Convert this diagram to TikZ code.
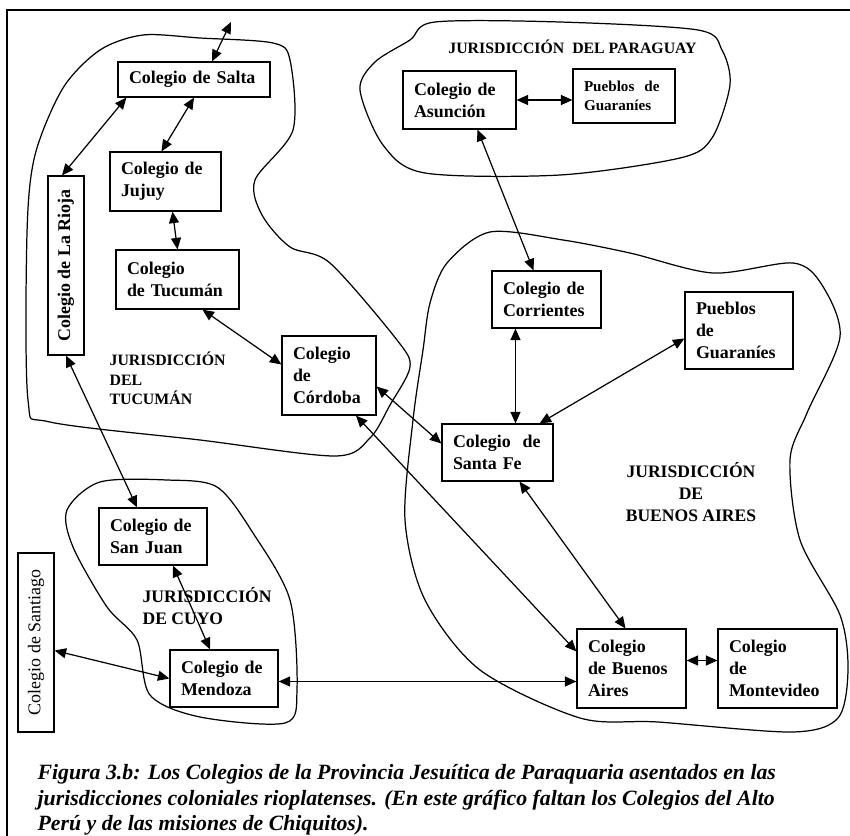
\documentclass[tikz,border=0pt]{standalone}
\usepackage{fontspec}
\setmainfont{Liberation Serif}
\usetikzlibrary{arrows.meta,calc}

\begin{document}
\begin{tikzpicture}[x=0.02cm,y=-0.02cm,line width=0.7pt,%
>={Triangle[length=2.3mm,width=2mm]},%
colegio/.style={draw, inner xsep=0.22cm, inner ysep=0pt, align=left,
font=\bfseries\fontsize{10.2}{12.5}\selectfont},
jur/.style={inner sep=0pt, font=\bfseries\fontsize{9}{11}\selectfont}]
\useasboundingbox (0,0) rectangle (850,836);
\draw (7,836) -- (7,10) -- (850,10);
% jurisdicciones
\draw plot[smooth cycle] coordinates {(143,35) (200,38) (273,43) (290,60)
(293,130) (255,180) (262,215) (290,247) (330,263) (397,340) (410,367)
(390,405) (370,438) (335,456) (200,440) (50,422) (28,400) (27,233)
(35,155) (63,88) (100,50)};
\draw plot[smooth cycle] coordinates {(435,22) (560,22) (698,30) (722,50)
(730,85) (712,138) (680,158) (560,175) (425,173) (383,145) (360,90)
(375,62) (410,40)};
\draw plot[smooth cycle] coordinates {(447,263) (490,232) (563,240)
(630,253) (713,273) (793,263) (822,285) (840,337) (807,413) (790,460)
(800,540) (840,615) (848,670) (838,718) (792,732) (658,722) (580,718)
(480,670) (425,600) (405,520) (413,420) (423,350) (430,303)};
\draw plot[smooth cycle] coordinates {(100,482) (167,480) (217,487)
(253,533) (290,600) (297,690) (285,723) (200,717) (150,695) (137,640)
(107,607) (73,547) (67,510)};
\node (salta) at (194,79.5) [colegio, text width=2.6cm, minimum height=0.7cm]
{Colegio de Salta};
\node (jujuy) at (165.5,181.5) [colegio, text width=1.78cm, minimum height=1.18cm]
{Colegio de\\Jujuy};
\node (tucuman) at (177.5,279.5) [colegio, text width=2.02cm, minimum height=1.18cm]
{Colegio\\de Tucumán};
\node (rioja) at (66,265.5) [colegio, rotate=90, inner xsep=0pt, align=center,
minimum width=3.58cm, minimum height=0.72cm] {Colegio de La Rioja};
\node (cordoba) at (329,375.5) [colegio, text width=1.44cm, minimum height=1.58cm]
{Colegio\\de\\Córdoba};
\node (santiago) at (36,642.5) [colegio, rotate=90, inner xsep=0pt, align=center,
minimum width=3.58cm, minimum height=0.72cm,
font=\fontsize{10.2}{12.5}\selectfont] {Colegio de Santiago};
\node (sanJuan) at (153,536.5) [colegio, text width=1.72cm, minimum height=1.14cm]
{Colegio de\\San Juan};
\node (mendoza) at (224,678.5) [colegio, text width=1.72cm, minimum height=1.14cm]
{Colegio de\\Mendoza};
\node (asuncion) at (459.5,100) [colegio, text width=1.82cm, minimum height=1.16cm]
{Colegio de\\Asunción};
\node (pueblosPy) at (624,96) [colegio, text width=1.6cm, minimum height=1.08cm,
font=\bfseries\fontsize{8.6}{10.8}\selectfont] {Pueblos\ \ de\\Guaraníes};
\node (corrientes) at (546.5,299.5) [colegio, text width=1.74cm, minimum height=1.14cm]
{Colegio de\\Corrientes};
\node (pueblosBa) at (739,330.5) [colegio, text width=1.72cm, minimum height=1.54cm]
{Pueblos\\de\\Guaraníes};
\node (santaFe) at (497.5,452.5) [colegio, text width=1.78cm, minimum height=1.14cm]
{Colegio\ \ de\\Santa Fe};
\node (bsAs) at (631.5,668.5) [colegio, text width=1.74cm, minimum height=1.58cm]
{Colegio\\de Buenos\\Aires};
\node (montevideo) at (777.5,668.5) [colegio, text width=1.94cm, minimum height=1.58cm]
{Colegio\\de\\Montevideo};
\node (jurTuc) at (109,378.5) [jur, anchor=west, align=left]
{JURISDICCIÓN\\DEL\\TUCUMÁN};
\node (jurPar) at (572.5,47) [jur] {JURISDICCIÓN\ \ DEL PARAGUAY};
\node (jurBa) at (691,492) [jur, align=center,
font=\bfseries\fontsize{10}{12.5}\selectfont]
{JURISDICCIÓN\\DE\hspace*{0.32cm}\\BUENOS AIRES};
\node (jurCuyo) at (142,606) [jur, anchor=west, align=left,
font=\bfseries\fontsize{10}{12.5}\selectfont] {JURISDICCIÓN\\DE CUYO};
\node (caption) at (37,800) [anchor=west, inner sep=0pt, align=left,
font=\bfseries\itshape\fontsize{12.4}{14.4}\selectfont]
{Figura 3.b: Los Colegios de la Provincia Jesuítica de Paraquaria asentados en las\\
jurisdicciones coloniales rioplatenses. (En este gráfico faltan los Colegios del Alto\\
Perú y de las misiones de Chiquitos).};
\coordinate (arriba) at (231,22);
\draw[<->] ($(salta.north)+(18,0)$) -- (arriba);
\draw[<->] ($(salta.south west)+(9,0)$) -- ($(rioja.east)+(-4,0)$);
\draw[<->] (salta.south) -- ($(jujuy.north)+(-4,0)$);
\draw[<->] ($(jujuy.south)+(7,0)$) -- (tucuman.north);
\draw[<->] ($(tucuman.south)+(25,0)$) -- ($(cordoba.west)+(0,-11)$);
\draw[<->] (rioja.west) -- ($(sanJuan.north)+(-16,0)$);
\draw[<->] ($(cordoba.east)+(0,11)$) -- ($(santaFe.west)+(0,-9)$);
\draw[<->] ($(cordoba.south)+(27,0)$) -- ($(bsAs.west)+(0,-17)$);
\draw[<->] ($(asuncion.south)+(18,0)$) -- ($(corrientes.north)+(-13,0)$);
\draw[<->] (asuncion.east) -- (asuncion.east -| pueblosPy.west);
\draw[<->] ($(corrientes.south)+(-31,0)$) -- ($(santaFe.north)+(18,0)$);
\draw[<->] ($(pueblosBa.west)+(0,8)$) -- ($(santaFe.north east)+(-14,0)$);
\draw[<->] ($(santaFe.south)+(22,0)$) -- ($(bsAs.north)+(-6,0)$);
\draw[<->] ($(bsAs.east)+(0,-8)$) -- ($(montevideo.west)+(0,-8)$);
\draw[<->] ($(mendoza.east)+(0,3)$) -- ($(bsAs.west)+(0,13)$);
\draw[<->] ($(sanJuan.south)+(20,0)$) -- ($(mendoza.north)+(-14,0)$);
\draw[<->] ($(santiago.south)+(0,8)$) -- (mendoza.west);
\end{tikzpicture}
\end{document}
